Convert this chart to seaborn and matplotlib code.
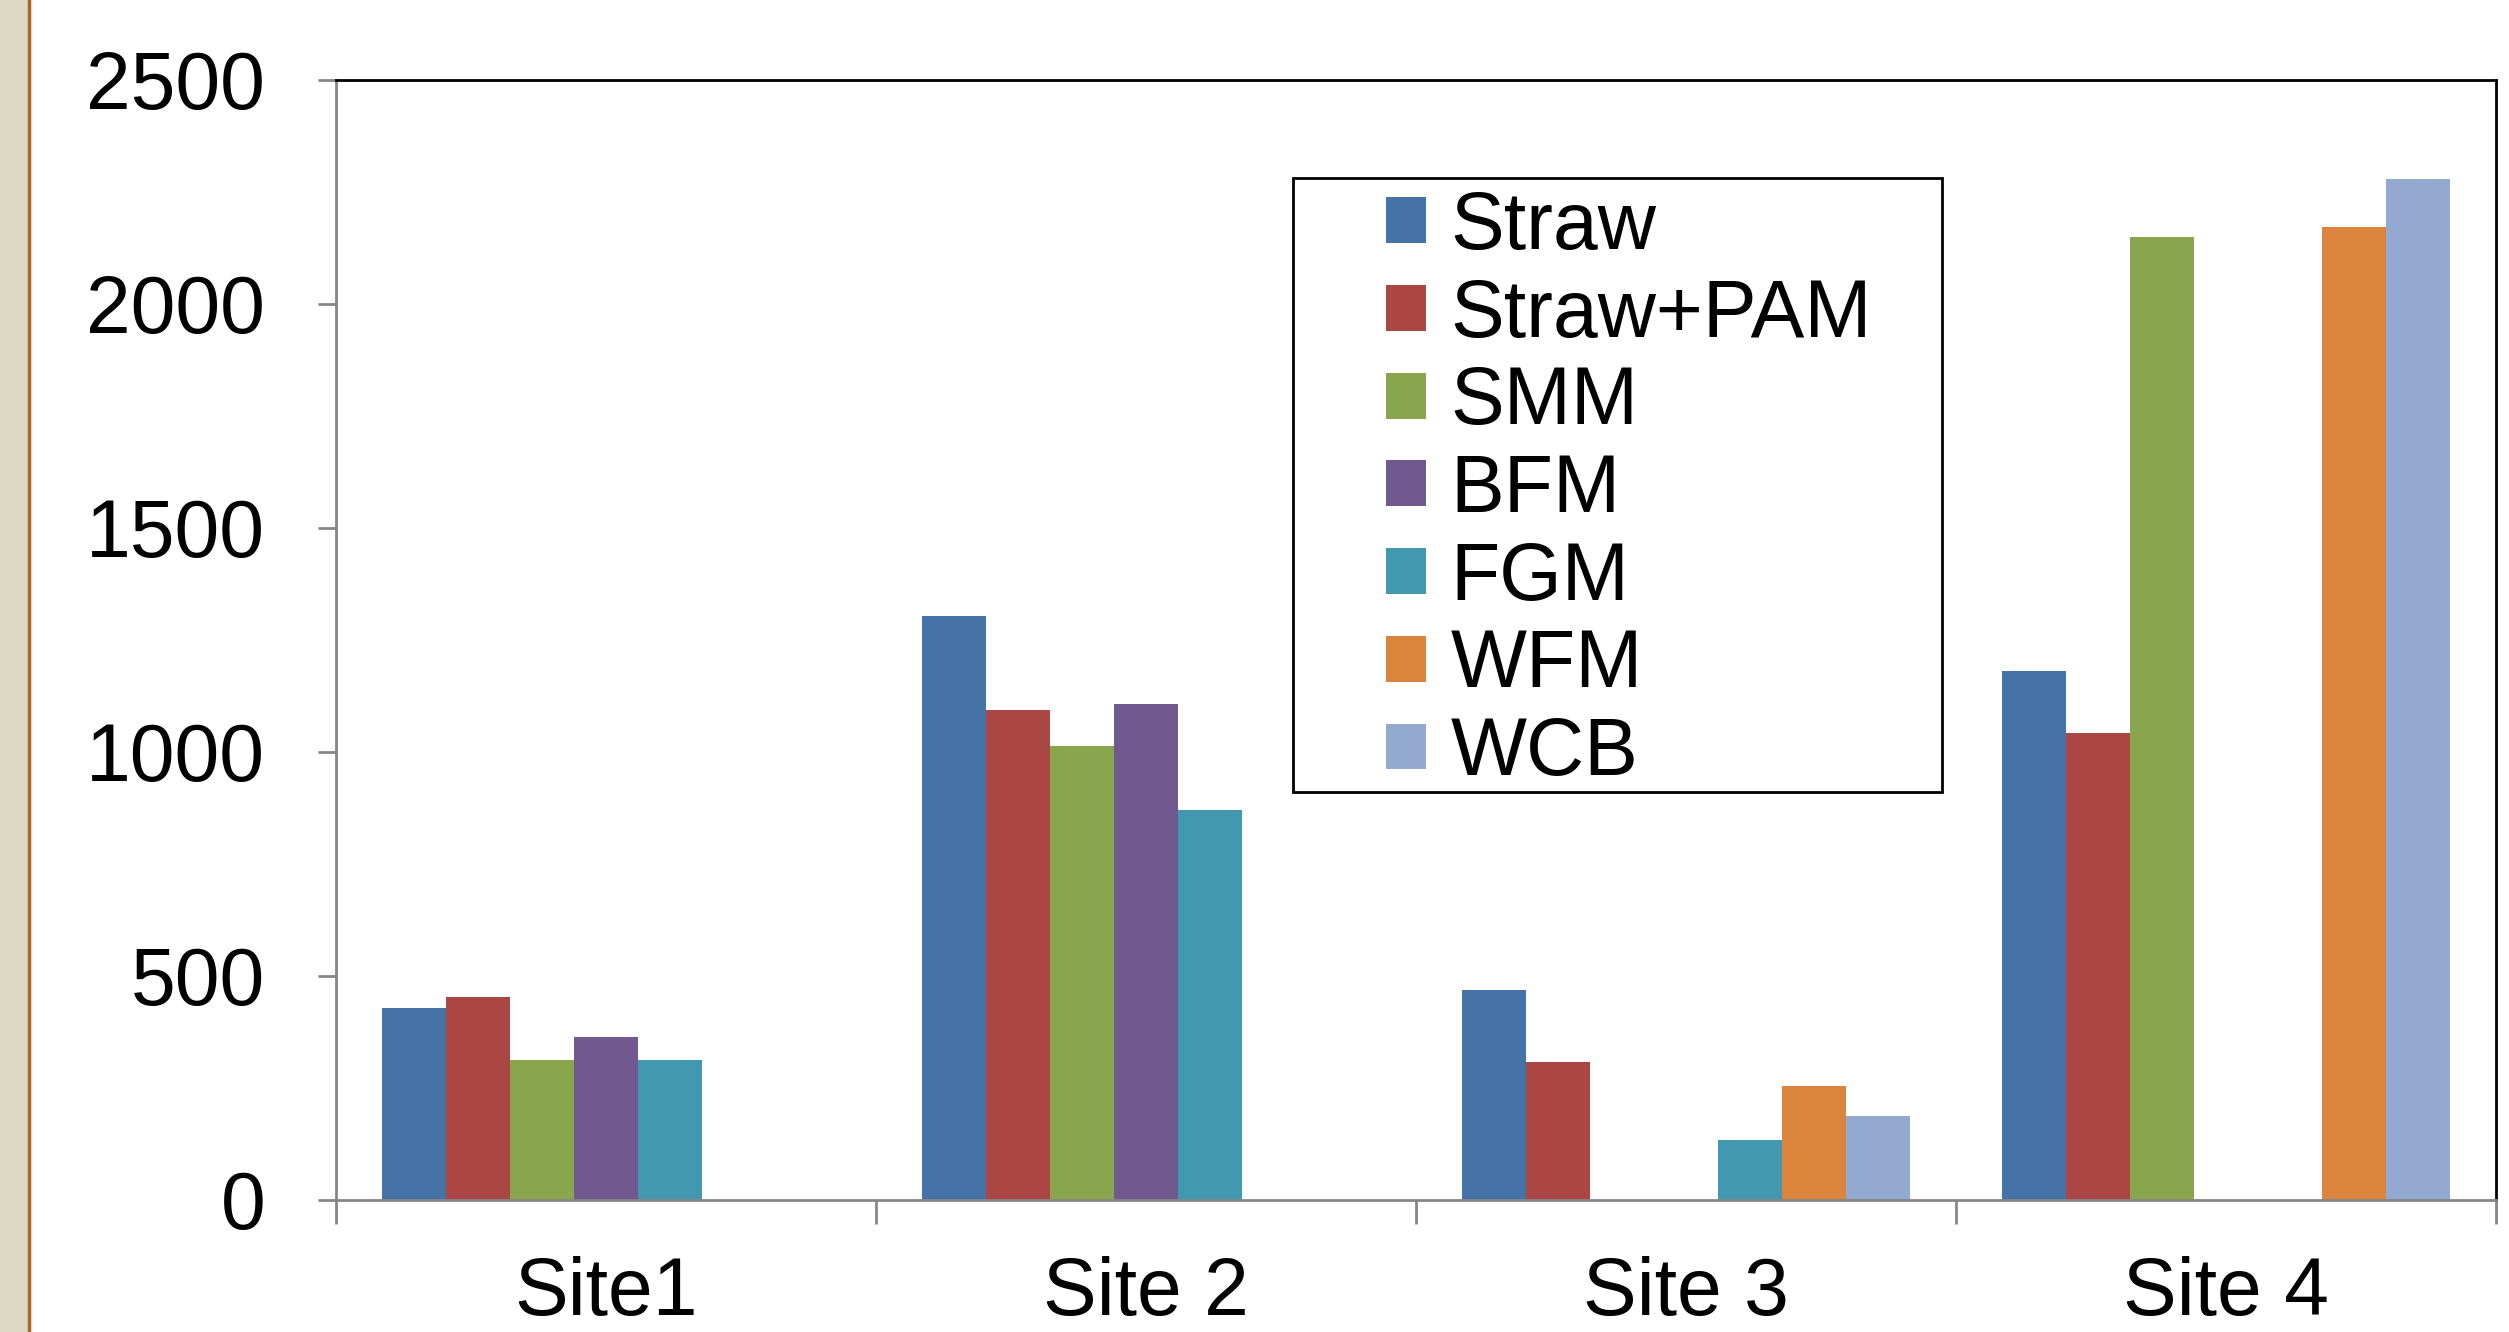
import numpy as np
import pandas as pd
import matplotlib
matplotlib.use("Agg")
import matplotlib.pyplot as plt
from matplotlib.patches import Rectangle
from matplotlib.lines import Line2D
import seaborn as sns

# values
sites = ["Site1", "Site 2", "Site 3", "Site 4"]
treatments = ["Straw", "Straw+PAM", "SMM", "BFM", "FGM", "WFM", "WCB"]
straw = [428, 1304, 468, 1180]
straw_pam = [454, 1093, 307, 1043]
smm = [313, 1014, np.nan, 2150]
bfm = [363, 1107, np.nan, np.nan]
fgm = [313, 871, 133, np.nan]
wfm = [np.nan, np.nan, 254, 2172]
wcb = [np.nan, np.nan, 188, 2279]
colors = ["#4572A7", "#AA4643", "#89A54E", "#71588F", "#4198AF", "#DB843D", "#93A9CF"]
yticks = [0, 500, 1000, 1500, 2000, 2500]

series = [straw, straw_pam, smm, bfm, fgm, wfm, wcb]
rows = []
for name, vals in zip(treatments, series):
    for site, v in zip(sites, vals):
        rows.append({"Site": site, "Treatment": name, "Value": v})
df = pd.DataFrame(rows).dropna()

sns.set_style("white")
plt.rcParams["font.family"] = ["Liberation Sans", "DejaVu Sans"]
plt.rcParams["text.color"] = "black"

W, H = 2509, 1332
fig = plt.figure(figsize=(W / 100, H / 100), dpi=100)
ax = fig.add_axes([336 / W, 1 - 1200 / H, (2496 - 336) / W, (1200 - 80) / H])

sns.barplot(
    data=df, x="Site", y="Value", hue="Treatment",
    order=sites, hue_order=treatments, palette=colors,
    width=0.83, errorbar=None, linewidth=0, saturation=1,
    ax=ax, legend=False,
)

ax.set_xlim(-0.5, 3.5)
ax.set_ylim(0, 2500)
ax.set_yticks(yticks)
ax.set_xlabel("")
ax.set_ylabel("")

gray = "#868686"
for side in ["left", "bottom"]:
    ax.spines[side].set_color(gray)
    ax.spines[side].set_linewidth(2)
for side in ["top", "right"]:
    ax.spines[side].set_color("black")
    ax.spines[side].set_linewidth(2)

ax.tick_params(axis="y", direction="out", length=13, width=2, color=gray,
               labelsize=58, labelcolor="black", pad=38, left=True)
ax.tick_params(axis="x", which="major", length=0, labelsize=58,
               labelcolor="black", pad=40)
ax.set_xticks([-0.5, 0.5, 1.5, 2.5, 3.5], minor=True)
ax.tick_params(axis="x", which="minor", direction="out", length=17, width=2,
               color=gray, bottom=True)

# legend
handles = [Rectangle((0, 0), 1, 1, facecolor=c, edgecolor="none") for c in colors]
leg = fig.legend(
    handles, treatments, loc="upper left",
    bbox_to_anchor=(1386 / W, 1 - 190 / H), bbox_transform=fig.transFigure,
    frameon=False, fontsize=58, handlelength=0.5, handleheight=0.5,
    handletextpad=0.3, labelspacing=0.145, borderpad=0, borderaxespad=0,
)
fig.patches.append(Rectangle((1293 / W, 1 - 792 / H), (1942 - 1293) / W, (792 - 178) / H,
                             transform=fig.transFigure, facecolor="none",
                             edgecolor="black", linewidth=2))

# beige strip on the left edge
fig.patches.append(Rectangle((0, 0), 28 / W, 1, transform=fig.transFigure,
                             facecolor="#DED9C3", edgecolor="none"))
fig.lines.append(Line2D([29 / W, 29 / W], [0, 1], transform=fig.transFigure,
                        color="#A8652E", linewidth=2.5))

fig.savefig("out.png", dpi=100)
